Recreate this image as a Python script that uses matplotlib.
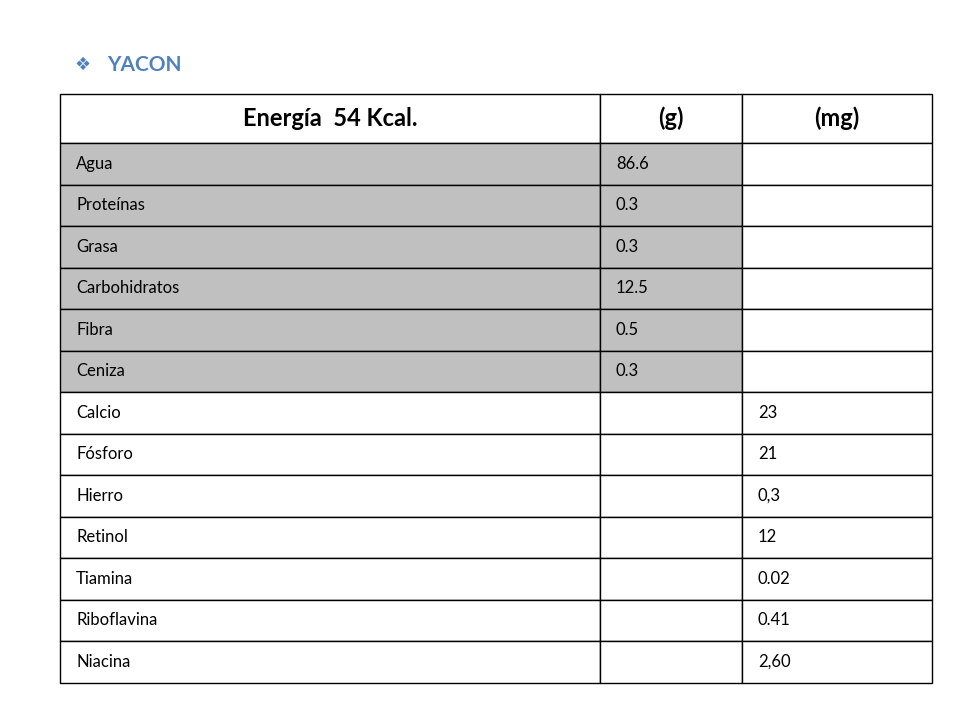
import matplotlib.pyplot as plt
from matplotlib.patches import Rectangle

title = "YACON"
headers = ["Energía  54 Kcal.", "(g)", "(mg)"]
nutrients = ["Agua", "Proteínas", "Grasa", "Carbohidratos", "Fibra", "Ceniza",
             "Calcio", "Fósforo", "Hierro", "Retinol", "Tiamina", "Riboflavina", "Niacina"]
grams = ["86.6", "0.3", "0.3", "12.5", "0.5", "0.3", "", "", "", "", "", "", ""]
milligrams = ["", "", "", "", "", "", "23", "21", "0,3", "12", "0.02", "0.41", "2,60"]

fig = plt.figure(figsize=(9.6, 7.2), dpi=100)
ax = fig.add_axes([0, 0, 1, 1])
ax.set_xlim(0, 960); ax.set_ylim(720, 0); ax.axis('off')

cols = [60, 600, 742, 932]
top, head_h, row_h = 94, 49, 41.5
font = "Lato"

ax.text(83, 65, "\u2756", fontsize=13, color="#4F81BD", ha='center', va='center', family="DejaVu Sans")
ax.text(107, 65, title, fontsize=15, color="#4F81BD", weight='bold', ha='left', va='center', family=font)

# header
for j, h in enumerate(headers):
    ax.add_patch(Rectangle((cols[j], top), cols[j+1]-cols[j], head_h, fc='white', ec='black', lw=1))
    ax.text((cols[j]+cols[j+1])/2, top+head_h/2, h, fontsize=17, weight='bold', ha='center', va='center', family=font)

for i, name in enumerate(nutrients):
    y = top + head_h + i*row_h
    gray = grams[i] != ""
    vals = [name, grams[i], milligrams[i]]
    for j in range(3):
        fc = '#C0C0C0' if (gray and j < 2) else 'white'
        ax.add_patch(Rectangle((cols[j], y), cols[j+1]-cols[j], row_h, fc=fc, ec='black', lw=1))
        if vals[j]:
            ax.text(cols[j]+16, y+row_h/2, vals[j], fontsize=12, ha='left', va='center', family=font)

fig.savefig("out.png", dpi=100)
